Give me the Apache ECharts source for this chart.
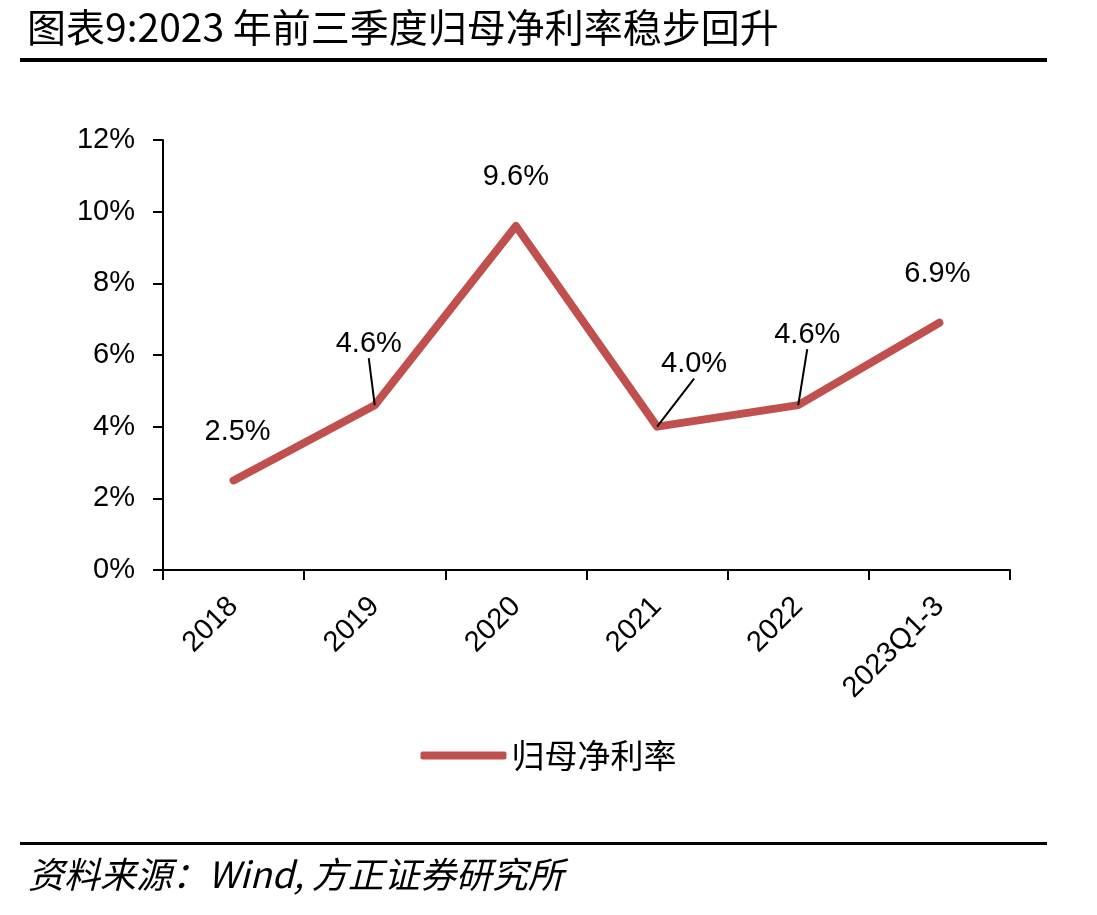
<!DOCTYPE html>
<html>
<head>
<meta charset="utf-8">
<script src="https://cdn.jsdelivr.net/npm/echarts@6/dist/echarts.min.js"></script>
<style>
  html, body { margin: 0; padding: 0; background: #fff; }
  #chart { width: 1097px; height: 915px; }
</style>
</head>
<body>
<div id="chart"></div>
<script>
// 数据
const categories = ['2018', '2019', '2020', '2021', '2022', '2023Q1-3'];
const netMargin = [2.5, 4.6, 9.6, 4.0, 4.6, 6.9];
const seriesName = '归母净利率';

// 标签偏移（部分带引导线）
const labelShift = [
  { dx: 4, dy: 0, line: false },
  { dx: -6, dy: -13, line: true },
  { dx: 0, dy: 0, line: false },
  { dx: 37, dy: -14, line: true },
  { dx: 9, dy: -22, line: true },
  { dx: -2, dy: 0, line: false }
];

const chart = echarts.init(document.getElementById('chart'));
const cjk = '"Noto Sans CJK SC", sans-serif';
const latin = '"Liberation Sans", sans-serif';

const option = {
  animation: false,
  backgroundColor: '#fff',
  title: {
    text: '图表9:2023 年前三季度归母净利率稳步回升',
    left: 22,
    top: 3,
    textStyle: { fontFamily: cjk, fontSize: 39, fontWeight: 'normal', color: '#000' }
  },
  graphic: [
    { type: 'rect', shape: { x: 20, y: 58, width: 1027, height: 4 }, style: { fill: '#000' } },
    { type: 'rect', shape: { x: 20, y: 842, width: 1027, height: 3 }, style: { fill: '#000' } },
    {
      type: 'text', left: 28, top: 856,
      style: { text: '资料来源：Wind, 方正证券研究所', font: 'italic 36px "Noto Sans CJK SC"', fill: '#000' }
    }
  ],
  legend: {
    data: [seriesName],
    left: 'center',
    top: 734,
    itemWidth: 86,
    itemHeight: 8,
    itemGap: 10,
    icon: 'roundRect',
    textStyle: { fontFamily: cjk, fontSize: 33, color: '#000' }
  },
  grid: { left: 163, right: 87, top: 140, bottom: 345, containLabel: false },
  xAxis: {
    type: 'category',
    data: categories,
    boundaryGap: true,
    axisLine: { lineStyle: { color: '#000', width: 2 } },
    axisTick: { show: true, length: 10, lineStyle: { color: '#000', width: 2 } },
    axisLabel: {
      rotate: 45, margin: 32, color: '#000',
      fontFamily: latin, fontSize: 29
    }
  },
  yAxis: {
    type: 'value',
    min: 0, max: 12, interval: 2,
    splitLine: { show: false },
    axisLine: { show: true, lineStyle: { color: '#000', width: 2 } },
    axisTick: { show: true, length: 10, lineStyle: { color: '#000', width: 2 } },
    axisLabel: {
      formatter: v => v + '%', margin: 28, color: '#000',
      fontFamily: latin, fontSize: 29
    }
  },
  series: [{
    name: seriesName,
    type: 'line',
    data: netMargin.map((v, i) => ({
      value: v,
      labelLine: { show: labelShift[i].line }
    })),
    symbol: 'circle',
    symbolSize: 0.1,
    showSymbol: true,
    lineStyle: { color: '#C0504D', width: 8, cap: 'round', join: 'round' },
    itemStyle: { color: '#C0504D' },
    label: {
      show: true,
      position: 'top',
      distance: 34,
      formatter: p => p.value.toFixed(1) + '%',
      fontFamily: latin,
      fontSize: 29,
      color: '#000'
    },
    labelLine: { show: false, lineStyle: { color: '#000', width: 2 } },
    labelLayout: p => ({ dx: labelShift[p.dataIndex].dx, dy: labelShift[p.dataIndex].dy })
  }]
};

chart.setOption(option);
</script>
</body>
</html>
